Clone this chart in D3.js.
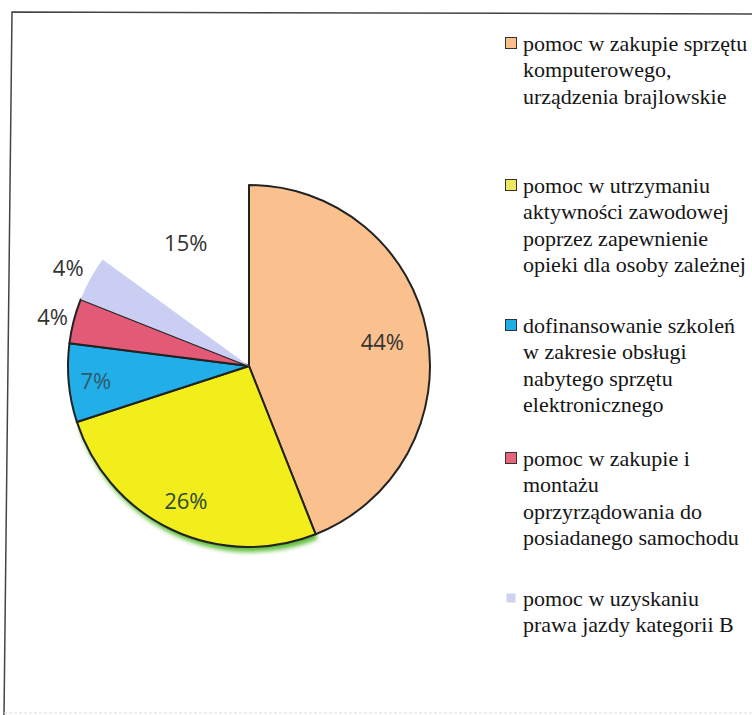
<!DOCTYPE html>
<html><head><meta charset="utf-8">
<script src="https://cdn.jsdelivr.net/npm/d3@7"></script>
<style>html,body{margin:0;padding:0;background:#fff;}svg{display:block;}</style>
</head><body>
<svg id="chart" width="752" height="715"></svg>
<script>
// ---- data ----
const categories = [
  "pomoc w zakupie sprzętu komputerowego, urządzenia brajlowskie",
  "pomoc w utrzymaniu aktywności zawodowej poprzez zapewnienie opieki dla osoby zależnej",
  "dofinansowanie szkoleń w zakresie obsługi nabytego sprzętu elektronicznego",
  "pomoc w zakupie i montażu oprzyrządowania do posiadanego samochodu",
  "pomoc w uzyskaniu prawa jazdy kategorii B",
  ""
];
const values = [44, 26, 7, 4, 4, 15];
const valueLabels = ["44%", "26%", "7%", "4%", "4%", "15%"];
const legendLines = [
  ["pomoc w zakupie sprzętu", "komputerowego,", "urządzenia brajlowskie"],
  ["pomoc w utrzymaniu", "aktywności zawodowej", "poprzez zapewnienie", "opieki dla osoby zależnej"],
  ["dofinansowanie szkoleń", "w zakresie obsługi", "nabytego sprzętu", "elektronicznego"],
  ["pomoc w zakupie i", "montażu", "oprzyrządowania do", "posiadanego samochodu"],
  ["pomoc w uzyskaniu", "prawa jazdy kategorii B"]
];

// ---- styles ----
const fills = ["#FAC08E", "#F2EE1C", "#22AEE8", "#E25A76", "#C9CEF2", "none"];
const strokes = ["#222", "#222", "#222", "#222", "none", "none"];
const legendFills = ["#F8BE8C", "#EEE860", "#1EAEE6", "#E6667A", "#CFD3F2"];
const labelColors = ["#333", "#2b4a38", "#2f5a6a", "#333", "#333", "#333"];
const labelRadius = [0.75, 0.82, 0.85, 1.12, 1.14, 0.77];
const legendTop = [43, 185, 325, 458, 598];

const svg = d3.select("#chart");

// frame
svg.append("path").attr("d", "M752,14 L12,12 L4,715")
  .attr("fill", "none").attr("stroke", "#444").attr("stroke-width", 1.5);
svg.append("line").attr("x1", 4).attr("x2", 752).attr("y1", 713).attr("y2", 713)
  .attr("stroke", "#ddd").attr("stroke-width", 1).attr("stroke-dasharray", "3,2");

const cx = 249, cy = 366, R = 181;
const g = svg.append("g").attr("transform", `translate(${cx},${cy})`);

const pie = d3.pie().sort(null).value(d => d);
const arcs = pie(values);
const arc = d3.arc().innerRadius(0).outerRadius(R);

// green shadow under yellow slice
const defs = svg.append("defs");
defs.append("filter").attr("id", "blur").append("feGaussianBlur").attr("stdDeviation", 2);
g.append("path").datum(arcs[1]).attr("d", arc)
  .attr("transform", "translate(2,5)")
  .attr("fill", "#5FBF3A").attr("filter", "url(#blur)");

g.selectAll("path.slice").data(arcs).join("path")
  .attr("class", "slice")
  .attr("d", arc)
  .attr("fill", (d, i) => fills[i])
  .attr("stroke", (d, i) => strokes[i])
  .attr("stroke-width", 2)
  .attr("stroke-linejoin", "round");

g.selectAll("text.lbl").data(arcs).join("text")
  .attr("class", "lbl")
  .attr("transform", (d, i) => {
    const a = d3.arc().innerRadius(R * labelRadius[i]).outerRadius(R * labelRadius[i]);
    const [x, y] = a.centroid(d);
    return `translate(${x},${y})`;
  })
  .attr("text-anchor", "middle")
  .attr("dominant-baseline", "central")
  .attr("font-family", "'Open Sans', sans-serif")
  .attr("font-size", 22)
  .attr("fill", (d, i) => labelColors[i])
  .text((d, i) => valueLabels[i]);

// legend
const lg = svg.append("g");
const lineH = 26.5;
legendLines.forEach((lines, i) => {
  const y0 = legendTop[i];
  const sz = i === 4 ? 9 : 11;
  lg.append("rect")
    .attr("x", 511 - sz / 2).attr("y", y0 - sz / 2)
    .attr("width", sz).attr("height", sz)
    .attr("fill", legendFills[i])
    .attr("stroke", i === 4 ? "none" : "#333").attr("stroke-width", 1);
  lines.forEach((t, j) => {
    lg.append("text")
      .attr("x", 523).attr("y", y0 + j * lineH)
      .attr("dominant-baseline", "central")
      .attr("font-family", "'Liberation Serif', serif")
      .attr("font-size", 22)
      .attr("fill", "#151515")
      .text(t);
  });
});
</script>
</body></html>
